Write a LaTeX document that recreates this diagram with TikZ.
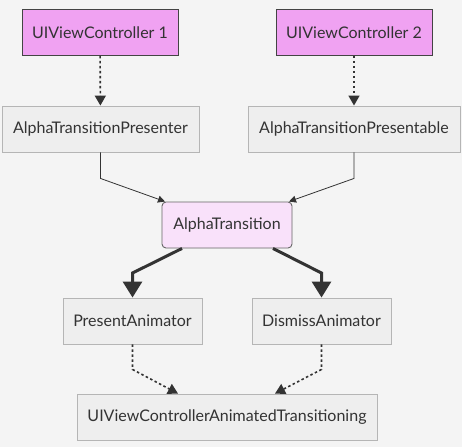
\documentclass[tikz,border=0pt]{standalone}
\usepackage{fontspec}
\setmainfont{Lato}
\usetikzlibrary{arrows.meta}

\definecolor{bgcol}{HTML}{F4F4F4}
\definecolor{vcfill}{HTML}{F0A2F2}
\definecolor{vcline}{HTML}{444444}
\definecolor{atfill}{HTML}{F9E1FA}
\definecolor{atline}{HTML}{666666}
\definecolor{boxfill}{HTML}{EEEEEE}
\definecolor{boxline}{HTML}{B5B5B5}
\definecolor{arrcol}{HTML}{333333}

\begin{document}
\begin{tikzpicture}[x=1pt,y=-1pt,
  box/.style={draw=boxline,fill=boxfill,line width=0.9pt,minimum height=46pt,inner sep=0pt,
    font=\fontsize{16}{18}\selectfont,text=arrcol},
  vcbox/.style={box,draw=vcline,fill=vcfill},
  atbox/.style={box,draw=atline,fill=atfill,rounded corners=4pt},
  dotline/.style={draw=arrcol,line width=1.6pt,dash pattern=on 2.5pt off 2.5pt,
    -{Triangle[width=11pt,length=10pt]}},
  thinline/.style={draw=arrcol,line width=0.8pt,-{Triangle[width=7pt,length=7pt]}},
  thickline/.style={draw=arrcol,line width=3pt,-{Triangle[width=19pt,length=16pt]}}]

\fill[bgcol] (0,0) rectangle (462,447);
\useasboundingbox (0,0) rectangle (462,447);

\node[vcbox,minimum width=156pt] (vc1) at (100,32.5) {UIViewController 1};
\node[vcbox,minimum width=156pt] (vc2) at (354,32.5) {UIViewController 2};

\node[box,minimum width=197pt] (presenter) at (100.5,129) {AlphaTransitionPresenter};
\node[box,minimum width=212pt] (presentable) at (354,129) {AlphaTransitionPresentable};

\node[atbox,minimum width=130pt] (transition) at (227,225) {AlphaTransition};

\node[box,minimum width=139pt] (present) at (132.5,321) {PresentAnimator};
\node[box,minimum width=139pt] (dismiss) at (321.5,321) {DismissAnimator};

\node[box,minimum width=300pt] (animated) at (227,417) {UIViewControllerAnimatedTransitioning};

\draw[dotline] (vc1) -- (presenter);
\draw[dotline] (vc2) -- (presentable);

\draw[thinline] (presenter.south) -- ++(0,26) -- ([xshift=-62pt]transition.north);
\draw[thinline] (presentable.south) -- ++(0,26) -- ([xshift=62pt]transition.north);

\draw[thickline] ([xshift=-45pt]transition.south) -- (132.5,273) -- (present.north);
\draw[thickline] ([xshift=46pt]transition.south) -- (321.5,273) -- (dismiss.north);

\draw[dotline] (present.south) -- ++(0,25) -- ([xshift=-49pt]animated.north);
\draw[dotline] (dismiss.south) -- ++(0,25) -- ([xshift=48pt]animated.north);
\end{tikzpicture}
\end{document}
